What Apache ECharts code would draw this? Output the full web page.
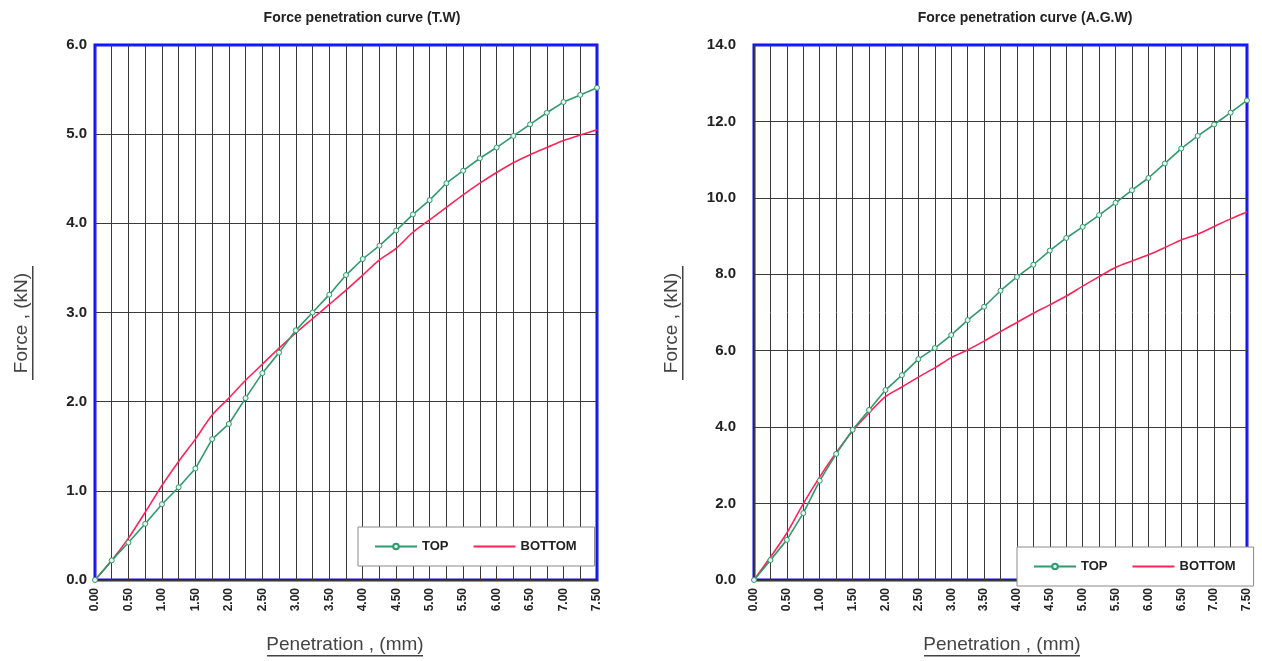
<!DOCTYPE html>
<html>
<head>
<meta charset="utf-8">
<title>Force penetration curves</title>
<script src="https://cdn.jsdelivr.net/npm/echarts@6/dist/echarts.min.js"></script>
<style>
  html, body { margin: 0; padding: 0; background: #fff; }
  #main { width: 1262px; height: 661px; }
</style>
</head>
<body>
<div id="main"></div>
<script>
// penetration (mm), one reading every 0.25 mm
const penetration = [0, 0.25, 0.5, 0.75, 1, 1.25, 1.5, 1.75, 2, 2.25, 2.5, 2.75, 3, 3.25, 3.5, 3.75,
  4, 4.25, 4.5, 4.75, 5, 5.25, 5.5, 5.75, 6, 6.25, 6.5, 6.75, 7, 7.25, 7.5];

// force (kN) - T.W
const twTop = [0, 0.22, 0.42, 0.63, 0.85, 1.04, 1.25, 1.58, 1.75, 2.04, 2.32, 2.55, 2.8, 3.0, 3.2, 3.42,
  3.6, 3.75, 3.92, 4.1, 4.26, 4.45, 4.59, 4.73, 4.85, 4.98, 5.11, 5.24, 5.36, 5.44, 5.52];
const twBottom = [0, 0.22, 0.47, 0.76, 1.06, 1.33, 1.58, 1.85, 2.04, 2.24, 2.42, 2.6, 2.77, 2.93, 3.09, 3.25,
  3.42, 3.59, 3.72, 3.9, 4.04, 4.18, 4.32, 4.45, 4.57, 4.68, 4.77, 4.85, 4.93, 4.99, 5.05];

// force (kN) - A.G.W
const agwTop = [0, 0.52, 1.05, 1.75, 2.6, 3.3, 3.93, 4.45, 4.97, 5.36, 5.78, 6.07, 6.41, 6.8, 7.15, 7.57,
  7.93, 8.25, 8.62, 8.95, 9.24, 9.55, 9.87, 10.2, 10.52, 10.9, 11.29, 11.62, 11.92, 12.23, 12.55];
const agwBottom = [0, 0.6, 1.23, 2.0, 2.7, 3.33, 3.9, 4.37, 4.8, 5.05, 5.31, 5.55, 5.82, 6.02, 6.25, 6.5,
  6.74, 6.98, 7.2, 7.43, 7.69, 7.94, 8.18, 8.35, 8.51, 8.7, 8.9, 9.05, 9.25, 9.45, 9.63];

const titles = ['Force penetration curve (T.W)', 'Force penetration curve (A.G.W)'];
const yMax = [6, 14];
const yStep = [1, 2];

const TOP_COLOR = '#2f9a6c';
const BOTTOM_COLOR = '#ff2357';
const GRID_LINE = '#3a3a3a';

function pairs(ys) {
  return penetration.map((x, i) => [x, ys[i]]);
}

let chart = echarts.init(document.getElementById('main'));

function xAxis(gridIndex) {
  return {
    type: 'value',
    gridIndex: gridIndex,
    min: 0,
    max: 7.5,
    interval: 0.5,
    axisLine: { show: false },
    axisTick: { show: false },
    minorTick: { show: false, splitNumber: 2 },
    splitLine: { show: true, lineStyle: { color: GRID_LINE, width: 1 } },
    minorSplitLine: { show: true, lineStyle: { color: GRID_LINE, width: 1 } },
    axisLabel: {
      rotate: 90,
      margin: 8,
      color: '#222',
      fontFamily: 'Arial',
      fontWeight: 'bold',
      fontSize: 12,
      formatter: v => v.toFixed(2)
    }
  };
}

function yAxis(gridIndex) {
  return {
    type: 'value',
    gridIndex: gridIndex,
    min: 0,
    max: yMax[gridIndex],
    interval: yStep[gridIndex],
    axisLine: { show: false },
    axisTick: { show: false },
    splitLine: { show: true, lineStyle: { color: GRID_LINE, width: 1 } },
    axisLabel: {
      margin: gridIndex == 0 ? 8 : 18,
      color: '#222',
      fontFamily: 'Arial',
      fontWeight: 'bold',
      fontSize: 15,
      formatter: v => v.toFixed(1)
    }
  };
}

function legend(left, top) {
  return {
    left: left,
    top: top,
    orient: 'horizontal',
    backgroundColor: '#fff',
    borderColor: '#8a8a8a',
    borderWidth: 1,
    padding: [13, 18, 13, 16],
    itemGap: 24,
    itemWidth: 42,
    itemHeight: 7,
    textStyle: { color: '#222', fontFamily: 'Arial', fontWeight: 'bold', fontSize: 13 },
    data: [
      { name: 'TOP' },
      // plain line, no marker
      { name: 'BOTTOM', itemStyle: { opacity: 0 } }
    ]
  };
}

function series(name, data, gridIndex) {
  let isTop = name == 'TOP';
  return {
    name: name,
    type: 'line',
    xAxisIndex: gridIndex,
    yAxisIndex: gridIndex,
    data: pairs(data),
    smooth: isTop ? false : 0.3,
    showSymbol: isTop,
    symbol: isTop ? 'circle' : 'none',
    symbolSize: 5,
    lineStyle: { color: isTop ? TOP_COLOR : BOTTOM_COLOR, width: 1.6 },
    itemStyle: { color: isTop ? '#e8f4ee' : BOTTOM_COLOR, borderColor: isTop ? TOP_COLOR : BOTTOM_COLOR, borderWidth: 1 },
    z: isTop ? 3 : 2
  };
}

// axis titles are underlined in the original, so draw them as graphics
function axisTitles() {
  let items = [];
  let yCenters = [[22, 323], [672, 323]];
  let xCenters = [[345, 645], [1002, 645]];
  yCenters.forEach(([x, y]) => {
    items.push({
      type: 'text', x: x, y: y, rotation: Math.PI / 2,
      style: { text: 'Force , (kN)', font: '19px Arial', fill: '#444', align: 'center', verticalAlign: 'middle' }
    });
    items.push({ type: 'rect', shape: { x: x + 10, y: y - 57, width: 1.5, height: 114 }, style: { fill: '#444' } });
  });
  xCenters.forEach(([x, y]) => {
    items.push({
      type: 'text', x: x, y: y,
      style: { text: 'Penetration , (mm)', font: '19px Arial', fill: '#444', align: 'center', verticalAlign: 'middle' }
    });
    items.push({ type: 'rect', shape: { x: x - 78, y: y + 10, width: 156, height: 1.5 }, style: { fill: '#444' } });
  });
  return items;
}

let option = {
  backgroundColor: '#fff',
  animation: false,
  title: [
    { text: titles[0], left: 357, top: 6, textAlign: 'center',
      textStyle: { fontFamily: 'Arial', fontWeight: 'bold', fontSize: 14, color: '#222' } },
    { text: titles[1], left: 1020, top: 6, textAlign: 'center',
      textStyle: { fontFamily: 'Arial', fontWeight: 'bold', fontSize: 14, color: '#222' } }
  ],
  grid: [
    { left: 95, right: 665, top: 45, bottom: 81, show: true, borderColor: '#1010ee', borderWidth: 3, backgroundColor: '#fff', containLabel: false },
    { left: 754, right: 15, top: 45, bottom: 81, show: true, borderColor: '#1010ee', borderWidth: 3, backgroundColor: '#fff', containLabel: false }
  ],
  xAxis: [xAxis(0), xAxis(1)],
  yAxis: [yAxis(0), yAxis(1)],
  legend: [legend(358, 527), legend(1017, 547)],
  series: [
    series('TOP', twTop, 0),
    series('BOTTOM', twBottom, 0),
    series('TOP', agwTop, 1),
    series('BOTTOM', agwBottom, 1)
  ],
  graphic: axisTitles()
};

chart.setOption(option);
</script>
</body>
</html>
